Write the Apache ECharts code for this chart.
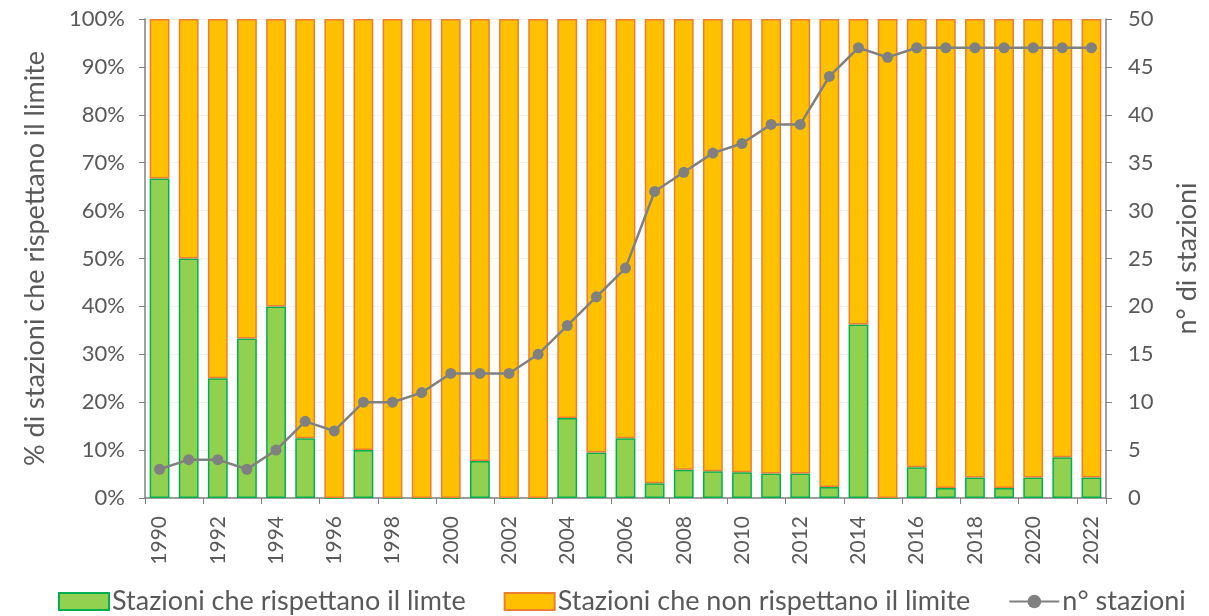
<!DOCTYPE html>
<html><head><meta charset="utf-8">
<script src="https://cdn.jsdelivr.net/npm/echarts@6/dist/echarts.min.js"></script>
<style>html,body{margin:0;padding:0;background:#fff}#c{width:1209px;height:616px}</style>
</head><body><div id="c"></div>
<script>
const years = ['1990','1991','1992','1993','1994','1995','1996','1997','1998','1999','2000','2001','2002','2003','2004','2005','2006','2007','2008','2009','2010','2011','2012','2013','2014','2015','2016','2017','2018','2019','2020','2021','2022'];
const pctOk = [66.7,50,25,33.3,40,12.5,0,10,0,0,0,7.7,0,0,16.7,9.5,12.5,3.1,5.9,5.6,5.4,5.1,5.1,2.3,36.2,0,6.4,2.1,4.3,2.1,4.3,8.5,4.3];
const pctNotOk = [33.3,50,75,66.7,60,87.5,100,90,100,100,100,92.3,100,100,83.3,90.5,87.5,96.9,94.1,94.4,94.6,94.9,94.9,97.7,63.8,100,93.6,97.9,95.7,97.9,95.7,91.5,95.7];
const nStations = [3,4,4,3,5,8,7,10,10,11,13,13,13,15,18,21,24,32,34,36,37,39,39,44,47,46,47,47,47,47,47,47,47];

const FONT = 'Lato';
const TXT = '#595959';
const chart = echarts.init(document.getElementById('c'));
chart.setOption({
  animation: false,
  textStyle: {fontFamily: FONT},
  grid: {left: 145, right: 97, top: 19, bottom: 118},
  legend: {
    bottom: -4, left: 53, itemGap: 38, itemWidth: 50, itemHeight: 17,
    textStyle: {fontFamily: FONT, fontSize: 27, color: TXT, padding: [0, 0, 0, -2]},
    data: [
      {name: 'Stazioni che rispettano il limte', icon: 'rect'},
      {name: 'Stazioni che non rispettano il limite', icon: 'rect'},
      {name: 'n° stazioni'}
    ]
  },
  xAxis: {
    type: 'category', data: years,
    axisLine: {lineStyle: {color: '#808080', width: 1.5}},
    axisTick: {show: true, alignWithLabel: false, length: 6, lineStyle: {color: '#808080'}},
    axisLabel: {rotate: 90, interval: 1, fontSize: 21, color: TXT, fontFamily: FONT, margin: 18}
  },
  yAxis: [
    {
      type: 'value', min: 0, max: 100, interval: 10,
      name: '% di stazioni che rispettano il limite', nameLocation: 'middle', nameGap: 96, nameRotate: 90,
      nameTextStyle: {fontSize: 27, color: TXT, fontFamily: FONT},
      axisLine: {show: true, lineStyle: {color: '#808080', width: 1.5}},
      axisTick: {show: true, length: 6, lineStyle: {color: '#808080'}},
      axisLabel: {formatter: '{value}%', fontSize: 22, color: TXT, fontFamily: FONT, margin: 20},
      splitLine: {show: true, lineStyle: {color: '#F2F2F2'}}
    },
    {
      type: 'value', min: 0, max: 50, interval: 5,
      name: 'n° di stazioni', nameLocation: 'middle', nameGap: 68, nameRotate: 90,
      nameTextStyle: {fontSize: 27, color: TXT, fontFamily: FONT},
      axisLine: {show: true, lineStyle: {color: '#808080', width: 1.5}},
      axisTick: {show: true, length: 6, lineStyle: {color: '#808080'}},
      axisLabel: {fontSize: 22, color: TXT, fontFamily: FONT, margin: 22},
      splitLine: {show: false}
    }
  ],
  series: [
    {
      name: 'Stazioni che rispettano il limte', type: 'bar', stack: 's', data: pctOk,
      barCategoryGap: '32%',
      itemStyle: {color: '#92D050', borderColor: '#00B050', borderWidth: 1.5}
    },
    {
      name: 'Stazioni che non rispettano il limite', type: 'bar', stack: 's', data: pctNotOk,
      itemStyle: {color: '#FFC000', borderColor: '#ED7D31', borderWidth: 1.5}
    },
    {
      name: 'n° stazioni', type: 'line', yAxisIndex: 1, data: nStations,
      symbol: 'circle', symbolSize: 11,
      lineStyle: {color: '#808080', width: 2.5},
      itemStyle: {color: '#808080'}
    }
  ]
});
</script></body></html>
